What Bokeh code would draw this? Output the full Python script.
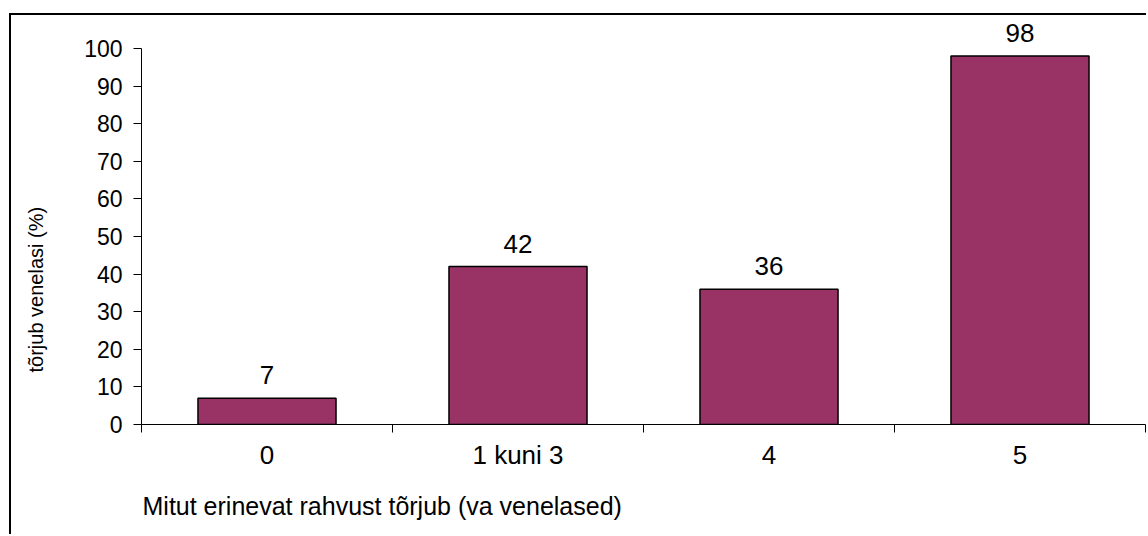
from bokeh.plotting import figure
from bokeh.models import Range1d, FixedTicker, Title, ColumnDataSource, LinearAxis
from bokeh.core.properties import value
from bokeh.embed import file_html
from bokeh.resources import INLINE

categories = ["0", "1 kuni 3", "4", "5"]
values = [7, 42, 36, 98]
y_ticks = [0, 10, 20, 30, 40, 50, 60, 70, 80, 90, 100]
x_title = "Mitut erinevat rahvust tõrjub (va venelased)"
y_title = "tõrjub venelasi (%)"

FONT = "Liberation Sans"

pos = [i + 0.5 for i in range(len(categories))]
src = ColumnDataSource(dict(x=pos, top=values, lab=[str(v) for v in values]))

p = figure(width=1137, height=521, output_backend="svg", toolbar_location=None,
           x_range=Range1d(0, len(categories)), y_range=Range1d(0, 108),
           min_border_left=130, min_border_right=3, min_border_top=3, min_border_bottom=111)
p.styles = {"margin-left": "9px", "margin-top": "13px",
            "border-left": "2px solid black", "border-top": "2px solid black"}
p.outline_line_color = None
p.xgrid.visible = False
p.ygrid.visible = False

p.vbar(x="x", top="top", bottom=0, width=0.55, source=src,
       fill_color="#993366", line_color="black", line_width=1.5)
p.text(x="x", y="top", text="lab", source=src, text_align="center",
       text_baseline="alphabetic", y_offset=-23,
       text_font=value(FONT), text_font_size="26px", text_color="black")

xa = p.xaxis[0]
xa.ticker = FixedTicker(ticks=pos, minor_ticks=list(range(len(categories) + 1)))
xa.major_label_overrides = {pp: c for pp, c in zip(pos, categories)}
xa.major_tick_out = 0
xa.major_tick_in = 0
xa.minor_tick_out = 8
xa.minor_tick_in = 0
xa.major_label_standoff = 7
xa.axis_line_color = "black"
xa.minor_tick_line_color = "black"
xa.major_label_text_font = FONT
xa.major_label_text_font_size = "26px"
xa.major_label_text_color = "black"

ya = p.yaxis[0]
ya.ticker = FixedTicker(ticks=y_ticks, minor_ticks=[])
ya.bounds = (0, 100)
ya.major_tick_out = 8
ya.major_tick_in = 0
ya.major_label_standoff = 11
ya.axis_line_color = "black"
ya.major_tick_line_color = "black"
ya.major_label_text_font = FONT
ya.major_label_text_font_size = "23px"
ya.major_label_text_color = "black"

# invisible spacer axis between the tick labels and the y title
spacer = LinearAxis(ticker=FixedTicker(ticks=[50], minor_ticks=[]),
                    major_label_overrides={50: ""},
                    axis_line_color=None, major_tick_line_color=None, minor_tick_line_color=None,
                    major_tick_out=33, major_tick_in=0, major_label_standoff=0)
p.add_layout(spacer, "left")

p.add_layout(Title(text=y_title, align="left", offset=52, standoff=4, text_color="black",
                   text_font=FONT, text_font_size="20px", text_font_style="normal"), "left")

p.add_layout(Title(text=x_title, align="left", offset=1, standoff=34, text_color="black",
                   text_font=FONT, text_font_size="25px", text_font_style="normal"), "below")

open("out.html", "w").write(file_html(p, INLINE))
